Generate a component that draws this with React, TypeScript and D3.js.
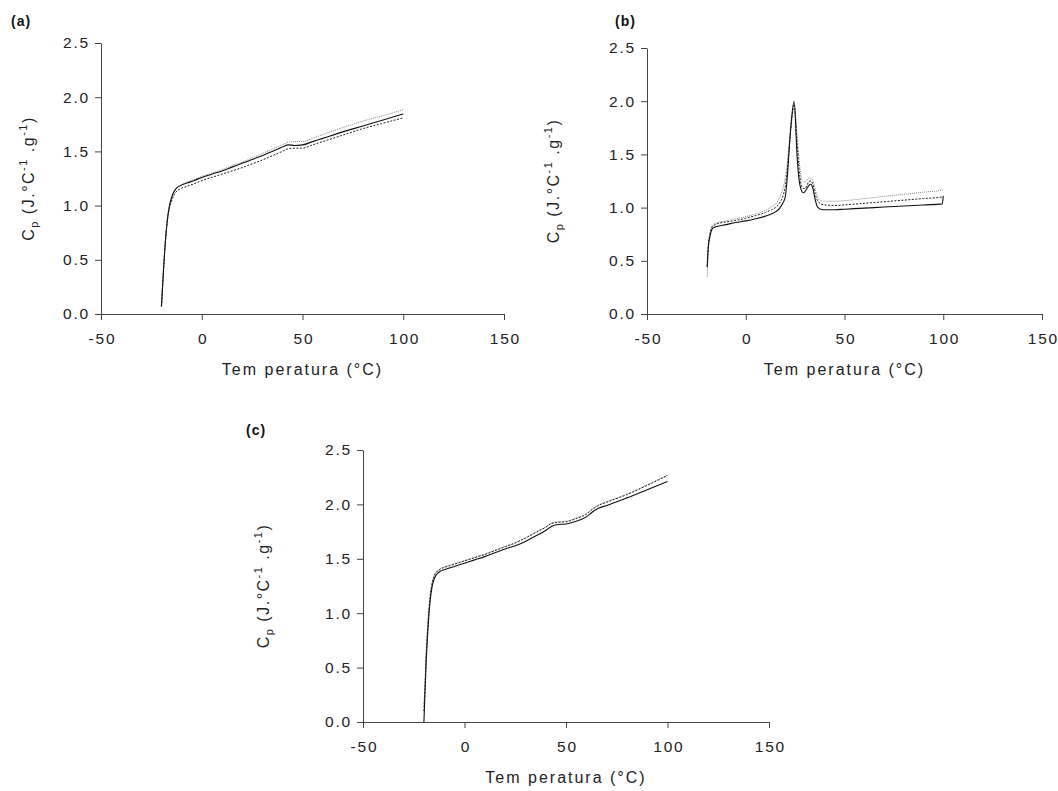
import React, { useEffect, useRef } from "react";
import * as d3 from "d3";

// axis ticks
const xTicks = [-50, 0, 50, 100, 150];
const yTicks = [0, 0.5, 1.0, 1.5, 2.0, 2.5];

// panel (a)
const aTemp = [-20, -19, -18, -17, -16, -15, -14, -13, -12, -10, -7, -4, 0, 5, 10, 15, 20, 25, 30, 35, 40, 43, 46, 50, 55, 60, 70, 80, 90, 100];
const aSolid = [0.07, 0.4, 0.68, 0.88, 1.0, 1.07, 1.12, 1.15, 1.17, 1.19, 1.21, 1.23, 1.26, 1.29, 1.32, 1.355, 1.39, 1.425, 1.46, 1.5, 1.54, 1.56, 1.555, 1.56, 1.59, 1.62, 1.68, 1.735, 1.79, 1.845];
const aDashed = [0.07, 0.4, 0.68, 0.87, 0.98, 1.04, 1.09, 1.12, 1.14, 1.16, 1.18, 1.2, 1.23, 1.26, 1.29, 1.32, 1.35, 1.385, 1.42, 1.46, 1.5, 1.525, 1.53, 1.53, 1.56, 1.59, 1.65, 1.71, 1.76, 1.81];
const aDotted = [0.07, 0.4, 0.68, 0.88, 1.0, 1.07, 1.12, 1.15, 1.17, 1.19, 1.22, 1.24, 1.27, 1.3, 1.33, 1.37, 1.4, 1.44, 1.48, 1.52, 1.56, 1.585, 1.59, 1.59, 1.62, 1.655, 1.72, 1.78, 1.83, 1.885];

// panel (b)
const bTemp = [-19.5, -19, -18, -17, -16, -15, -10, -5, 0, 5, 10, 13, 15, 17, 19, 20, 21, 22, 23, 24.5, 26, 27, 28, 29, 30, 31, 32, 33, 34, 35, 36, 37, 38, 40, 45, 50, 60, 70, 80, 90, 99.5, 100];
const bSolid = [0.44, 0.62, 0.74, 0.8, 0.815, 0.82, 0.84, 0.86, 0.875, 0.895, 0.92, 0.94, 0.96, 0.99, 1.05, 1.1, 1.28, 1.55, 1.8, 2.0, 1.48, 1.26, 1.17, 1.14, 1.15, 1.18, 1.21, 1.22, 1.18, 1.09, 1.02, 0.995, 0.985, 0.98, 0.98, 0.985, 0.995, 1.005, 1.015, 1.025, 1.035, 1.11];
const bDashed = [0.45, 0.64, 0.76, 0.82, 0.835, 0.845, 0.865, 0.88, 0.9, 0.925, 0.955, 0.98, 1.0, 1.04, 1.12, 1.2, 1.35, 1.56, 1.78, 1.97, 1.6, 1.36, 1.22, 1.18, 1.18, 1.21, 1.245, 1.25, 1.22, 1.14, 1.08, 1.05, 1.035, 1.025, 1.02, 1.025, 1.04, 1.055, 1.07, 1.085, 1.1, 1.105];
const bDotted = [0.35, 0.6, 0.77, 0.83, 0.845, 0.855, 0.875, 0.895, 0.915, 0.94, 0.975, 1.005, 1.03, 1.09, 1.19, 1.28, 1.42, 1.6, 1.78, 1.93, 1.68, 1.45, 1.3, 1.25, 1.24, 1.26, 1.28, 1.28, 1.25, 1.19, 1.12, 1.08, 1.065, 1.06, 1.06, 1.065, 1.085, 1.105, 1.125, 1.145, 1.165, 1.17];

// panel (c)
const cTemp = [-20, -19.5, -19, -18, -17, -16, -15, -14, -13, -12, -10, -5, 0, 5, 10, 15, 20, 25, 30, 35, 40, 43, 46, 50, 55, 60, 63, 66, 70, 80, 90, 100];
const cSolid = [0, 0.25, 0.5, 0.85, 1.1, 1.24, 1.31, 1.35, 1.37, 1.385, 1.4, 1.43, 1.46, 1.49, 1.52, 1.555, 1.59, 1.62, 1.66, 1.71, 1.76, 1.8, 1.815, 1.82, 1.845, 1.885, 1.93, 1.965, 1.99, 2.06, 2.135, 2.21];
const cDashed = [0.1, 0.3, 0.55, 0.9, 1.14, 1.27, 1.34, 1.375, 1.39, 1.405, 1.42, 1.45, 1.48, 1.51, 1.54, 1.575, 1.61, 1.645, 1.69, 1.74, 1.79, 1.825, 1.835, 1.84, 1.87, 1.91, 1.955, 1.99, 2.02, 2.09, 2.175, 2.265];
const cDotted = [0.15, 0.33, 0.58, 0.92, 1.15, 1.28, 1.345, 1.38, 1.395, 1.41, 1.425, 1.455, 1.485, 1.515, 1.545, 1.58, 1.615, 1.65, 1.695, 1.745, 1.795, 1.83, 1.84, 1.845, 1.875, 1.915, 1.96, 1.995, 2.025, 2.095, 2.18, 2.27];

const panels = [
  { label: "(a)", lx: 11, ly: 26, x0: 101, x1: 504, y0: 314, y1: 43, tx: 34, temp: aTemp, series: [aSolid, aDashed, aDotted] },
  { label: "(b)", lx: 615, ly: 26, x0: 647, x1: 1042, y0: 314, y1: 48, tx: 559, temp: bTemp, series: [bSolid, bDashed, bDotted] },
  { label: "(c)", lx: 246, ly: 435, x0: 363, x1: 769, y0: 722, y1: 450, tx: 269, temp: cTemp, series: [cSolid, cDashed, cDotted] },
];

const styles = [
  { stroke: "#111", dash: null, w: 1.1 },
  { stroke: "#222", dash: "2,1.5", w: 1 },
  { stroke: "#888", dash: "1,1", w: 1 },
];

const font = "Liberation Sans, Arial, sans-serif";

export default function App() {
  const ref = useRef<SVGSVGElement>(null);

  useEffect(() => {
    const svg = d3.select(ref.current);
    svg.selectAll("*").remove();

    panels.forEach(p => {
      const x = d3.scaleLinear().domain([-50, 150]).range([p.x0, p.x1]);
      const y = d3.scaleLinear().domain([0, 2.5]).range([p.y0, p.y1]);
      const g = svg.append("g");

      // axes
      const xa = g.append("g").attr("transform", `translate(0,${p.y0})`)
        .call(d3.axisBottom(x).tickValues(xTicks).tickSize(6).tickSizeOuter(0).tickPadding(13).tickFormat(d => String(d)));
      const ya = g.append("g").attr("transform", `translate(${p.x0},0)`)
        .call(d3.axisLeft(y).tickValues(yTicks).tickSize(6).tickSizeOuter(0).tickPadding(5).tickFormat(d3.format(".1f")));
      [xa, ya].forEach(a => {
        a.selectAll("path,line").attr("stroke", "#444");
        a.selectAll("text")
          .attr("font-family", font)
          .attr("font-size", 15.5)
          .attr("letter-spacing", 1.8)
          .attr("fill", "#222");
      });
      xa.selectAll("text").attr("dx", 0.9);

      // curves
      const line = d3.line<number>()
        .x((d, i) => x(p.temp[i]))
        .y(d => y(d))
        .curve(d3.curveMonotoneX);
      p.series.slice().reverse().forEach((s, k) => {
        const st = styles[p.series.length - 1 - k];
        g.append("path")
          .attr("d", line(s))
          .attr("fill", "none")
          .attr("stroke", st.stroke)
          .attr("stroke-width", st.w)
          .attr("stroke-dasharray", st.dash);
      });

      // titles
      g.append("text")
        .attr("x", (p.x0 + p.x1) / 2)
        .attr("y", p.y0 + 61)
        .attr("text-anchor", "middle")
        .attr("font-family", font)
        .attr("font-size", 16)
        .attr("letter-spacing", 2)
        .attr("fill", "#222")
        .text("Tem peratura (°C)");

      const yt = g.append("text")
        .attr("transform", `translate(${p.tx},${(p.y0 + p.y1) / 2}) rotate(-90)`)
        .attr("text-anchor", "middle")
        .attr("font-family", font)
        .attr("font-size", 16)
        .attr("letter-spacing", 1.5)
        .attr("fill", "#222");
      yt.append("tspan").text("C");
      yt.append("tspan").attr("font-size", 11).attr("dy", 4).text("p");
      yt.append("tspan").attr("dy", -4).text(" (J.°C");
      yt.append("tspan").attr("font-size", 11).attr("dy", -7).text("-1");
      yt.append("tspan").attr("dy", 7).text(" .g");
      yt.append("tspan").attr("font-size", 11).attr("dy", -7).text("-1");
      yt.append("tspan").attr("dy", 7).text(")");

      g.append("text")
        .attr("x", p.lx)
        .attr("y", p.ly)
        .attr("font-family", font)
        .attr("font-size", 14)
        .attr("font-weight", "bold")
        .attr("letter-spacing", 1)
        .attr("fill", "#111")
        .text(p.label);
    });
  }, []);

  return (
    <svg ref={ref} width={1058} height={791}
      style={{ position: "absolute", left: 0, top: 0, background: "#fff" }} />
  );
}
